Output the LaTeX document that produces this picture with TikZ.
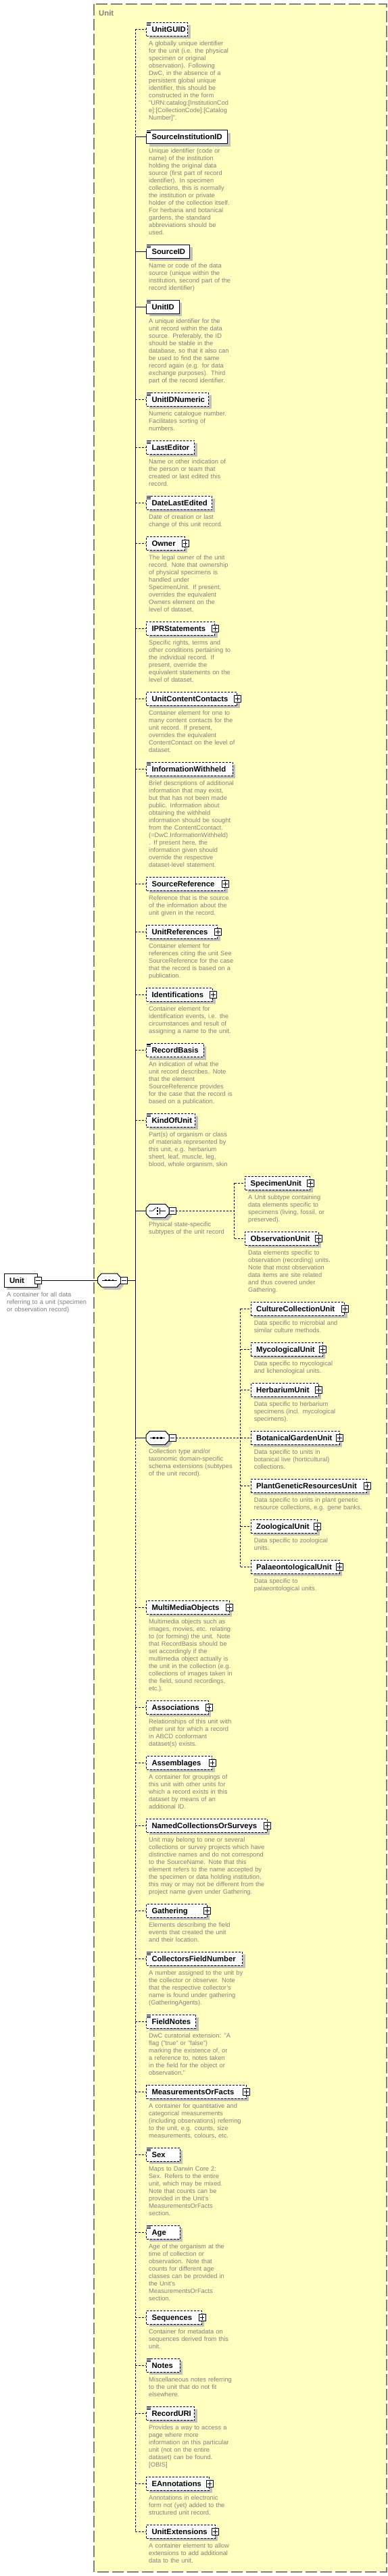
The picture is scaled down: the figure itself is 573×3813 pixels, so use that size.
\documentclass[tikz,border=0pt]{standalone}
\usepackage{fontspec}
\setmainfont{Liberation Sans}
\usetikzlibrary{shadows}
\definecolor{frameyellow}{RGB}{255,255,192}
\definecolor{framegray}{RGB}{128,128,128}
\definecolor{descgray}{RGB}{128,128,128}
\definecolor{shadowgray}{RGB}{192,192,192}
\newcommand\namefont{\fontsize{11.3}{13}\selectfont\bfseries}
\newcommand\descfont{\fontsize{9.3}{11}\selectfont}
\tikzset{
  ln/.style={line width=1pt},
  opt/.style={dash pattern=on 3pt off 2pt},
  el/.style={draw, fill=white, line width=1pt, minimum height=20pt, inner ysep=0pt, inner xsep=8pt, anchor=west, font=\namefont, text height=10pt, text depth=1.9pt, drop shadow={shadow xshift=4pt, shadow yshift=-4pt, fill=shadowgray, opacity=1}},
  dsc/.style={anchor=base west, font=\descfont, text=descgray, align=left, inner sep=0pt, text width=230pt},
  comp/.style={minimum width=34pt, minimum height=20pt, inner sep=0pt, outer sep=0pt},
  pm/.style={draw, fill=white, line width=0.8pt, minimum size=10pt, inner sep=0pt, outer sep=0pt},
  plusbox/.style={pm, path picture={\draw[line width=0.8pt] ([xshift=1.6pt]path picture bounding box.west) -- ([xshift=-1.6pt]path picture bounding box.east) ([yshift=-1.6pt]path picture bounding box.north) -- ([yshift=1.6pt]path picture bounding box.south);}},
  minusbox/.style={pm, path picture={\draw[line width=0.8pt] ([xshift=1.6pt]path picture bounding box.west) -- ([xshift=-1.6pt]path picture bounding box.east);}},
}
\newcommand\elnode[6]{\node[el,#5] (#1) at (#2,#3) {\makebox[#4pt][l]{#6}};}
\newcommand\dnode[4]{\node[dsc] (#1) at (#2,#3+24.3) {#4};}
\newcommand\simpicon[1]{\fill[white] ([shift={(-0.5,-0.5)}]#1.north west) rectangle ++(7.5,6.5);
  \draw[line width=0.7pt] ([shift={(0.8,0.8)}]#1.north west) -- ++(6,0) ([shift={(0.8,2.7)}]#1.north west) -- ++(6,0) ([shift={(0.8,4.6)}]#1.north west) -- ++(6,0);}
\newcommand\plusof[1]{\node[plusbox] (#1-p) at (#1.east) {};}
\newcommand\octo[1]{%
  \fill[shadowgray] ([shift={(-13,0)}]#1.center) -- ([shift={(-7.5,-6)}]#1.center) -- ([shift={(15.5,-6)}]#1.center) -- ([shift={(21,0)}]#1.center) -- ([shift={(21,8)}]#1.center) -- ([shift={(15.5,14)}]#1.center) -- ([shift={(-7.5,14)}]#1.center) -- ([shift={(-13,8)}]#1.center) -- cycle;
  \draw[ln,fill=white] ([shift={(-17,-4)}]#1.center) -- ([shift={(-11.5,-10)}]#1.center) -- ([shift={(11.5,-10)}]#1.center) -- ([shift={(17,-4)}]#1.center) -- ([shift={(17,4)}]#1.center) -- ([shift={(11.5,10)}]#1.center) -- ([shift={(-11.5,10)}]#1.center) -- ([shift={(-17,4)}]#1.center) -- cycle;}
\newcommand\seqicon[1]{%
  \draw[line width=0.8pt] ([shift={(-11,0)}]#1.center) -- ([shift={(11,0)}]#1.center);
  \foreach \dx in {-5.2,0,5.2} {\fill ([shift={(\dx-1.4,-1.4)}]#1.center) rectangle ++(2.8,2.8);}}
\newcommand\choiceicon[1]{%
  \draw[line width=0.8pt] ([shift={(-12.5,0)}]#1.center) -- ([shift={(-7,0)}]#1.center) -- ([shift={(-2.5,-4.5)}]#1.center);
  \fill ([shift={(-1.5,-5.8)}]#1.center) rectangle ++(2.6,2.6);
  \fill ([shift={(-1.5,-1.3)}]#1.center) rectangle ++(2.6,2.6);
  \fill ([shift={(-1.5,3.2)}]#1.center) rectangle ++(2.6,2.6);
  \draw[line width=0.8pt] ([shift={(3,-4.5)}]#1.center) -- ([shift={(3,4.5)}]#1.center) ([shift={(3,0)}]#1.center) -- ([shift={(12,0)}]#1.center);}
\begin{document}
\begin{tikzpicture}[x=1pt,y=-1pt]
\fill[white] (0,0) rectangle (573,3813);
\useasboundingbox (0,0) rectangle (573,3813);
% frame of the complex type
\draw[framegray, fill=frameyellow, line width=1.2pt, dash pattern=on 17pt off 5pt] (139,6) rectangle (572,3807);
\node[font=\namefont, text=framegray, anchor=west, inner sep=0pt] (ftitle) at (146,19) {Unit};

% root element
\elnode{unit}{5.5}{1895}{33.8}{}{Unit}
\node[minusbox] (unit-m) at (unit.east) {};
\node[dsc] (unitdesc) at (10,1895+24.3) {A container for all data\\referring to a unit (specimen\\or observation record)};
\node[comp] (seq0) at (161.7,1895) {};
\octo{seq0}
\seqicon{seq0}
\node[minusbox] (seq0-m) at ([xshift=5pt]seq0.east) {};

% main sequence children
\elnode{unitguid}{216}{43.3}{45.3}{opt}{UnitGUID}\simpicon{unitguid}
\dnode{d1}{220}{43.3}{A globally unique identifier\\for the unit (i.e. the physical\\specimen or original\\observation). Following\\DwC, in the absence of a\\persistent global unique\\identifier, this should be\\constructed in the form\\"URN:catalog:[InstitutionCod\\e]:[CollectionCode]:[Catalog\\Number]".}
\elnode{sourceinst}{216}{202.7}{104.3}{}{SourceInstitutionID}\simpicon{sourceinst}
\dnode{d2}{220}{202.7}{Unique identifier (code or\\name) of the institution\\holding the original data\\source (first part of record\\identifier). In specimen\\collections, this is normally\\the institution or private\\holder of the collection itself.\\For herbaria and botanical\\gardens, the standard\\abbreviations should be\\used.}
\elnode{sourceid}{216}{372.3}{48.2}{}{SourceID}\simpicon{sourceid}
\dnode{d3}{220}{372.3}{Name or code of the data\\source (unique within the\\institution, second part of the\\record identifier)}
\elnode{unitid}{216}{454.3}{32.7}{}{UnitID}\simpicon{unitid}
\dnode{d4}{220}{454.3}{A unique identifier for the\\unit record within the data\\source. Preferably, the ID\\should be stable in the\\database, so that it also can\\be used to find the same\\record again (e.g. for data\\exchange purposes). Third\\part of the record identifier.}
\elnode{unitidnum}{216}{591.3}{76.3}{opt}{UnitIDNumeric}\simpicon{unitidnum}
\dnode{d5}{220}{591.3}{Numeric catalogue number.\\Facilitates sorting of\\numbers.}
\elnode{lasteditor}{216}{662}{55.2}{opt}{LastEditor}\simpicon{lasteditor}
\dnode{d6}{220}{662}{Name or other indication of\\the person or team that\\created or last edited this\\record.}
\elnode{datelast}{216}{744.3}{81.4}{opt}{DateLastEdited}\simpicon{datelast}
\dnode{d7}{220}{744.3}{Date of creation or last\\change of this unit record.}
\elnode{owner}{216}{804.3}{40.9}{opt}{Owner}\plusof{owner}
\dnode{d8}{220}{804.3}{The legal owner of the unit\\record. Note that ownership\\of physical specimens is\\handled under\\SpecimenUnit. If present,\\overrides the equivalent\\Owners element on the\\level of dataset.}
\elnode{ipr}{216}{930.3}{85.1}{opt}{IPRStatements}\plusof{ipr}
\dnode{d9}{220}{930.3}{Specific rights, terms and\\other conditions pertaining to\\the individual record. If\\present, override the\\equivalent statements on the\\level of dataset.}
\elnode{ucc}{216}{1034.3}{118.3}{opt}{UnitContentContacts}\plusof{ucc}
\dnode{d10}{220}{1034.3}{Container element for one to\\many content contacts for the\\unit record. If present,\\overrides the equivalent\\ContentContact on the level of\\dataset.}
\elnode{infowith}{216}{1138.3}{111.7}{opt}{InformationWithheld}\simpicon{infowith}
\dnode{d11}{220}{1138.3}{Brief descriptions of additional\\information that may exist,\\but that has not been made\\public. Information about\\obtaining the withheld\\information should be sought\\from the ContentCcontact.\\(=DwC.InformationWithheld)\\. If present here, the\\information given should\\override the respective\\dataset-level statement.}
\elnode{srcref}{216}{1308.3}{100.2}{opt}{SourceReference}\plusof{srcref}
\dnode{d12}{220}{1308.3}{Reference that is the source\\of the information about the\\unit given in the record.}
\elnode{unitrefs}{216}{1379.3}{89.2}{opt}{UnitReferences}\plusof{unitrefs}
\dnode{d13}{220}{1379.3}{Container element for\\references citing the unit See\\SourceReference for the case\\that the record is based on a\\publication.}
\elnode{idents}{216}{1472.3}{82.2}{opt}{Identifications}\plusof{idents}
\dnode{d14}{220}{1472.3}{Container element for\\identification events, i.e. the\\circumstances and result of\\assigning a name to the unit.}
\elnode{recbasis}{216}{1554.6}{68.5}{opt}{RecordBasis}\simpicon{recbasis}
\dnode{d15}{220}{1554.6}{An indication of what the\\unit record describes. Note\\that the element\\SourceReference provides\\for the case that the record is\\based on a publication.}
\elnode{kindofunit}{216}{1658.3}{56.3}{opt}{KindOfUnit}\simpicon{kindofunit}
\dnode{d16}{220}{1658.3}{Part(s) of organism or class\\of materials represented by\\this unit, e.g. herbarium\\sheet, leaf, muscle, leg,\\blood, whole organism, skin}

% choice: physical state
\node[comp] (ch1) at (233,1792.3) {};
\octo{ch1}
\choiceicon{ch1}
\node[minusbox] (ch1-m) at ([xshift=5pt]ch1.east) {};
\node[dsc] (ch1desc) at (220,1792.3+23.5) {Physical state-specific\\subtypes of the unit record};
\elnode{specimen}{362.1}{1751.3}{80.2}{opt}{SpecimenUnit}\plusof{specimen}
\dnode{ds1}{367}{1751.3}{A Unit subtype containing\\data elements specific to\\specimens (living, fossil, or\\preserved).}
\elnode{observation}{362.1}{1833.3}{92.4}{opt}{ObservationUnit}\plusof{observation}
\dnode{ds2}{367}{1833.3}{Data elements specific to\\observation (recording) units.\\Note that most observation\\data items are site related\\and thus covered under\\Gathering.}

% sequence: collection type extensions
\node[comp] (sq2) at (233,2128.3) {};
\octo{sq2}
\seqicon{sq2}
\node[minusbox] (sq2-m) at ([xshift=5pt]sq2.east) {};
\node[dsc] (sq2desc) at (220,2128.3+23.5) {Collection type and/or\\taxonomic domain-specific\\schema extensions (subtypes\\of the unit record).};
\elnode{culture}{370.6}{1937.3}{122.6}{opt}{CultureCollectionUnit}\plusof{culture}
\dnode{dc1}{375.7}{1937.3}{Data specific to microbial and\\similar culture methods.}
\elnode{myco}{370.6}{1997.3}{90.2}{opt}{MycologicalUnit}\plusof{myco}
\dnode{dc2}{375.7}{1997.3}{Data specific to mycological\\and lichenological units.}
\elnode{herb}{370.6}{2057.3}{83.9}{opt}{HerbariumUnit}\plusof{herb}
\dnode{dc3}{375.7}{2057.3}{Data specific to herbarium\\specimens (incl. mycological\\specimens).}
\elnode{botan}{370.6}{2128.3}{114.9}{opt}{BotanicalGardenUnit}\plusof{botan}
\dnode{dc4}{375.7}{2128.3}{Data specific to units in\\botanical live (horticultural)\\collections.}
\elnode{pgr}{370.6}{2199.3}{155.4}{opt}{PlantGeneticResourcesUnit}\plusof{pgr}
\dnode{dc5}{375.7}{2199.3}{Data specific to units in plant genetic\\resource collections, e.g. gene banks.}
\elnode{zoo}{370.6}{2259.3}{82.1}{opt}{ZoologicalUnit}\plusof{zoo}
\dnode{dc6}{375.7}{2259.3}{Data specific to zoological\\units.}
\elnode{palae}{370.6}{2319.3}{114.9}{opt}{PalaeontologicalUnit}\plusof{palae}
\dnode{dc7}{375.7}{2319.3}{Data specific to\\palaeontological units.}

\elnode{mmo}{216}{2379.3}{106.5}{opt}{MultiMediaObjects}\plusof{mmo}
\dnode{d19}{220}{2379.3}{Multimedia objects such as\\images, movies, etc. relating\\to (or forming) the unit. Note\\that RecordBasis should be\\set accordingly if the\\multimedia object actually is\\the unit in the collection (e.g.\\collections of images taken in\\the field, sound recordings,\\etc.).}
\elnode{assoc}{216}{2527.3}{75.9}{opt}{Associations}\plusof{assoc}
\dnode{d20}{220}{2527.3}{Relationships of this unit with\\other unit for which a record\\in ABCD conformant\\dataset(s) exists.}
\elnode{assem}{216}{2609.3}{81}{opt}{Assemblages}\plusof{assem}
\dnode{d21}{220}{2609.3}{A container for groupings of\\this unit with other units for\\which a record exists in this\\dataset by means of an\\additional ID.}
\elnode{named}{216}{2702.3}{162.5}{opt}{NamedCollectionsOrSurveys}\plusof{named}
\dnode{d22}{220}{2702.3}{Unit may belong to one or several\\collections or survey projects which have\\distinctive names and do not correspond\\to the SourceName. Note that this\\element refers to the name accepted by\\the specimen or data holding institution,\\this may or may not be different from the\\project name given under Gathering.}
\elnode{gathering}{216}{2828.3}{73.8}{opt}{Gathering}\plusof{gathering}
\dnode{d23}{220}{2828.3}{Elements describing the field\\events that created the unit\\and their location.}
\elnode{cfn}{216}{2899.3}{126.4}{opt}{CollectorsFieldNumber}\simpicon{cfn}
\dnode{d24}{220}{2899.3}{A number assigned to the unit by\\the collector or observer. Note\\that the respective collector's\\name is found under gathering\\(GatheringAgents).}
\elnode{fieldnotes}{216}{2992.3}{57.1}{opt}{FieldNotes}\simpicon{fieldnotes}
\dnode{d25}{220}{2992.3}{DwC curatorial extension: "A\\flag ("true" or "false")\\marking the existence of, or\\a reference to, notes taken\\in the field for the object or\\observation."}
\elnode{mof}{216}{3096.3}{131.6}{opt}{MeasurementsOrFacts}\plusof{mof}
\dnode{d26}{220}{3096.3}{A container for quantitative and\\categorical measurements\\(including observations) referring\\to the unit, e.g. counts, size\\measurements, colours, etc.}
\elnode{sex}{216}{3189.3}{33.5}{opt}{Sex}\simpicon{sex}
\dnode{d27}{220}{3189.3}{Maps to Darwin Core 2:\\Sex. Refers to the entire\\unit, which may be mixed.\\Note that counts can be\\provided in the Unit's\\MeasurementsOrFacts\\section.}
\elnode{age}{216}{3304.3}{33.5}{opt}{Age}\simpicon{age}
\dnode{d28}{220}{3304.3}{Age of the organism at the\\time of collection or\\observation. Note that\\counts for different age\\classes can be provided in\\the Unit's\\MeasurementsOrFacts\\section.}
\elnode{sequences}{216}{3430.3}{65.9}{opt}{Sequences}\plusof{sequences}
\dnode{d29}{220}{3430.3}{Container for metadata on\\sequences derived from this\\unit.}
\elnode{notes}{216}{3501.3}{33.5}{opt}{Notes}\simpicon{notes}
\dnode{d30}{220}{3501.3}{Miscellaneous notes referring\\to the unit that do not fit\\elsewhere.}
\elnode{recorduri}{216}{3572.3}{55.2}{opt}{RecordURI}\simpicon{recorduri}
\dnode{d31}{220}{3572.3}{Provides a way to access a\\page where more\\information on this particular\\unit (not on the entire\\dataset) can be found.\\{}[OBIS]}
\elnode{eann}{216}{3676.3}{77}{opt}{EAnnotations}\plusof{eann}
\dnode{d32}{220}{3676.3}{Annotations in electronic\\form not (yet) added to the\\structured unit record.}
\elnode{unitext}{216}{3747.3}{85.8}{opt}{UnitExtensions}\plusof{unitext}
\dnode{d33}{220}{3747.3}{A container element to allow\\extensions to add additional\\data to the unit.}

% junction coordinates on the main sequence bar
\coordinate (s1) at (200,43.3);
\coordinate (s2) at (200,202.7);
\coordinate (s3) at (200,372.3);
\coordinate (s4) at (200,454.3);
\coordinate (s5) at (200,591.3);
\coordinate (s6) at (200,662);
\coordinate (s7) at (200,744.3);
\coordinate (s8) at (200,804.3);
\coordinate (s9) at (200,930.3);
\coordinate (s10) at (200,1034.3);
\coordinate (s11) at (200,1138.3);
\coordinate (s12) at (200,1308.3);
\coordinate (s13) at (200,1379.3);
\coordinate (s14) at (200,1472.3);
\coordinate (s15) at (200,1554.6);
\coordinate (s16) at (200,1658.3);
\coordinate (s17) at (200,1792.3);
\coordinate (sj) at (200,1895);
\coordinate (s18) at (200,2128.3);
\coordinate (s19) at (200,2379.3);
\coordinate (s20) at (200,2527.3);
\coordinate (s21) at (200,2609.3);
\coordinate (s22) at (200,2702.3);
\coordinate (s23) at (200,2828.3);
\coordinate (s24) at (200,2899.3);
\coordinate (s25) at (200,2992.3);
\coordinate (s26) at (200,3096.3);
\coordinate (s27) at (200,3189.3);
\coordinate (s28) at (200,3304.3);
\coordinate (s29) at (200,3430.3);
\coordinate (s30) at (200,3501.3);
\coordinate (s31) at (200,3572.3);
\coordinate (s32) at (200,3676.3);
\coordinate (s33) at (200,3747.3);

% main bar
\draw[ln,opt] (s1) -- (s2);
\draw[ln] (s2) -- (s18);
\draw[ln,opt] (s18) -- (s33);
% root connection
\draw[ln] (unit-m) -- (seq0);
\draw[ln] (seq0-m) -- (sj);
% stubs
\draw[ln,opt] (s1) -- (unitguid);
\draw[ln] (s2) -- (sourceinst);
\draw[ln] (s3) -- (sourceid);
\draw[ln] (s4) -- (unitid);
\draw[ln,opt] (s5) -- (unitidnum);
\draw[ln,opt] (s6) -- (lasteditor);
\draw[ln,opt] (s7) -- (datelast);
\draw[ln,opt] (s8) -- (owner);
\draw[ln,opt] (s9) -- (ipr);
\draw[ln,opt] (s10) -- (ucc);
\draw[ln,opt] (s11) -- (infowith);
\draw[ln,opt] (s12) -- (srcref);
\draw[ln,opt] (s13) -- (unitrefs);
\draw[ln,opt] (s14) -- (idents);
\draw[ln,opt] (s15) -- (recbasis);
\draw[ln,opt] (s16) -- (kindofunit);
\draw[ln] (s17) -- (ch1);
\draw[ln] (s18) -- (sq2);
\draw[ln,opt] (s19) -- (mmo);
\draw[ln,opt] (s20) -- (assoc);
\draw[ln,opt] (s21) -- (assem);
\draw[ln,opt] (s22) -- (named);
\draw[ln,opt] (s23) -- (gathering);
\draw[ln,opt] (s24) -- (cfn);
\draw[ln,opt] (s25) -- (fieldnotes);
\draw[ln,opt] (s26) -- (mof);
\draw[ln,opt] (s27) -- (sex);
\draw[ln,opt] (s28) -- (age);
\draw[ln,opt] (s29) -- (sequences);
\draw[ln,opt] (s30) -- (notes);
\draw[ln,opt] (s31) -- (recorduri);
\draw[ln,opt] (s32) -- (eann);
\draw[ln,opt] (s33) -- (unitext);

% choice branches
\coordinate (c1h) at (346.6,1792.3);
\coordinate (c1a) at (346.6,1751.3);
\coordinate (c1b) at (346.6,1833.3);
\draw[ln,opt] (ch1-m) -- (c1h);
\draw[ln,opt] (c1a) -- (c1b);
\draw[ln,opt] (c1a) -- (specimen);
\draw[ln,opt] (c1b) -- (observation);

% extension sequence branches
\coordinate (c2h) at (355.8,2128.3);
\coordinate (c2a) at (355.8,1937.3);
\coordinate (c2b) at (355.8,1997.3);
\coordinate (c2c) at (355.8,2057.3);
\coordinate (c2e) at (355.8,2199.3);
\coordinate (c2f) at (355.8,2259.3);
\coordinate (c2g) at (355.8,2319.3);
\draw[ln,opt] (sq2-m) -- (c2h);
\draw[ln,opt] (c2a) -- (c2g);
\draw[ln,opt] (c2a) -- (culture);
\draw[ln,opt] (c2b) -- (myco);
\draw[ln,opt] (c2c) -- (herb);
\draw[ln,opt] (c2h) -- (botan);
\draw[ln,opt] (c2e) -- (pgr);
\draw[ln,opt] (c2f) -- (zoo);
\draw[ln,opt] (c2g) -- (palae);
\end{tikzpicture}
\end{document}
